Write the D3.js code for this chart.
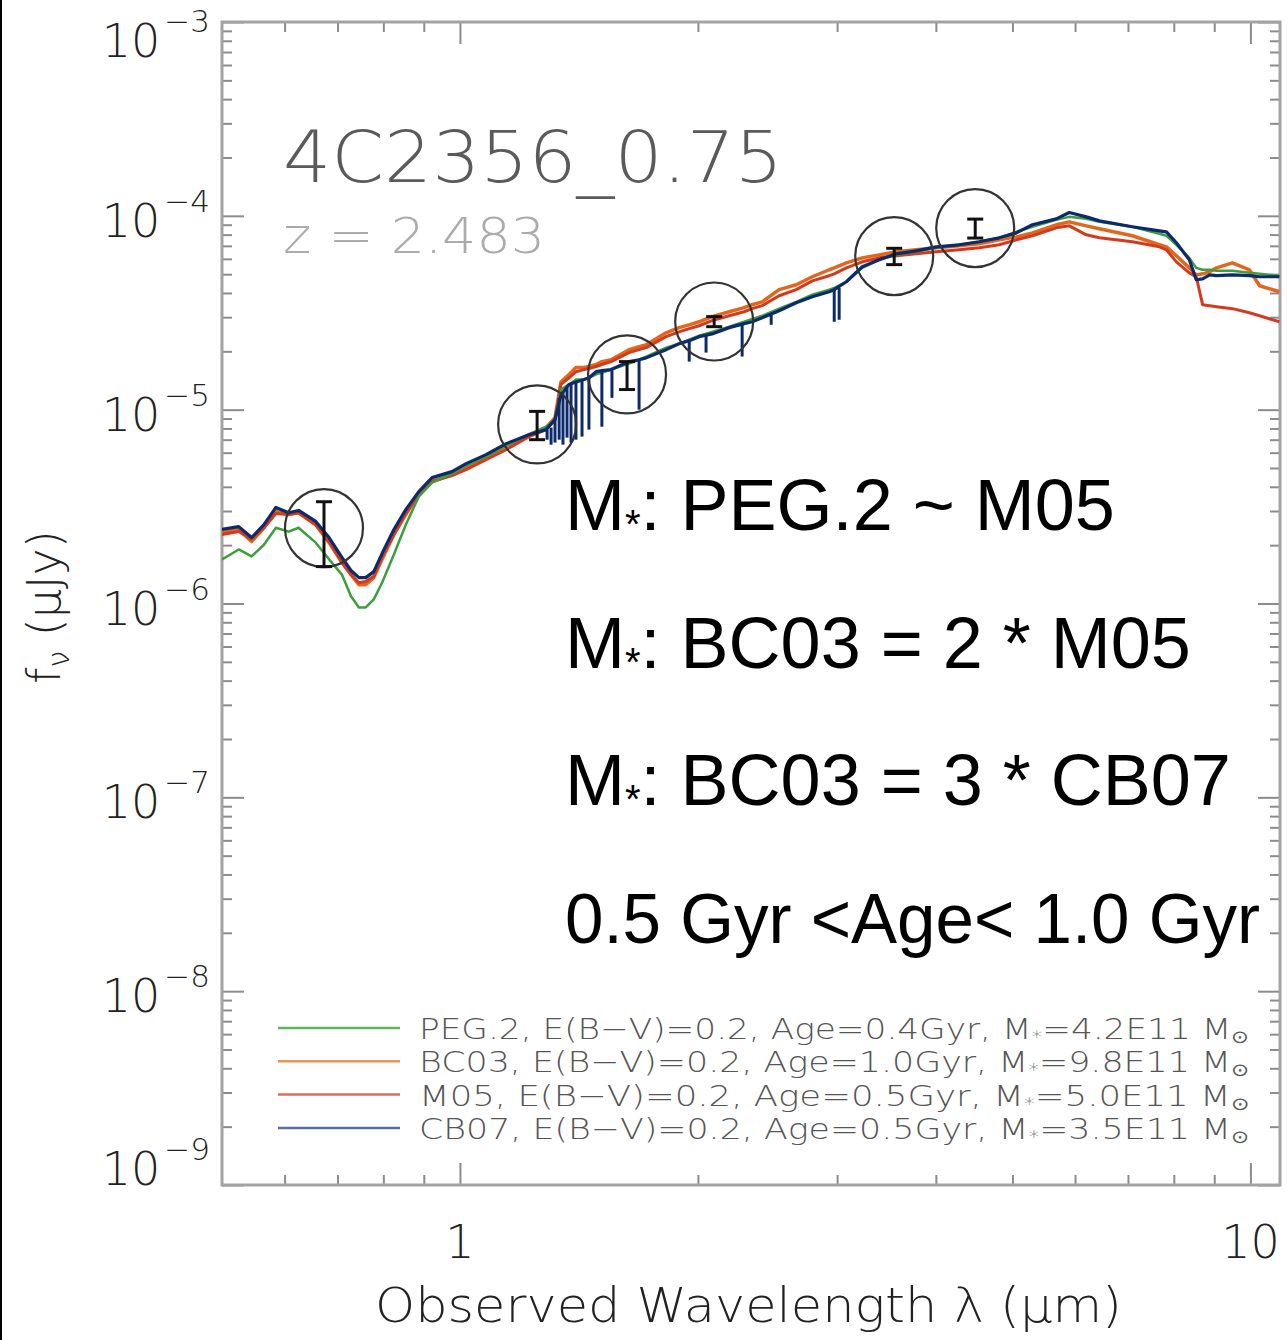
<!DOCTYPE html>
<html><head><meta charset="utf-8">
<script src="https://cdn.jsdelivr.net/npm/d3@7"></script>
<style>body{margin:0;background:#fff}svg{display:block}</style>
</head><body><svg id="chart" width="1287" height="1340"></svg>
<script>
// ---------- DATA ----------
const wavelength = [0.50,0.525,0.545,0.565,0.585,0.607,0.625,0.657,0.683,0.709,
  0.728,0.745,0.760,0.778,0.797,0.825,0.854,0.887,0.922,0.977,
  1.018,1.079,1.144,1.223,1.285,1.319,1.342,1.374,1.402,1.435,
  1.456,1.487,1.512,1.553,1.636,1.685,1.720,1.823,1.893,1.950,
  2.007,2.084,2.191,2.288,2.342,2.412,2.534,2.663,2.791,2.932,
  2.975,3.082,3.228,3.391,3.564,3.778,4.004,4.281,4.539,4.812,
  5.057,5.299,5.68,5.90,6.20,6.44,7.09,7.67,7.83,8.06,
  8.37,8.54,8.70,8.88,9.06,9.49,9.97,10.27,10.88];
const peg2 = [1.69e-6,1.90e-6,1.75e-6,2.01e-6,2.46e-6,2.35e-6,2.46e-6,2.06e-6,1.69e-6,1.41e-6,
  1.09e-6,9.54e-7,9.54e-7,1.05e-6,1.28e-6,1.79e-6,2.55e-6,3.56e-6,4.20e-6,4.68e-6,
  5.14e-6,5.72e-6,6.52e-6,7.43e-6,8.17e-6,8.88e-6,1.27e-5,1.35e-5,1.43e-5,1.43e-5,
  1.46e-5,1.52e-5,1.55e-5,1.61e-5,1.73e-5,1.81e-5,1.88e-5,2.09e-5,2.19e-5,2.30e-5,
  2.41e-5,2.52e-5,2.68e-5,2.84e-5,2.94e-5,3.05e-5,3.32e-5,3.60e-5,3.92e-5,4.16e-5,
  4.25e-5,4.57e-5,5.39e-5,5.93e-5,6.29e-5,6.52e-5,6.84e-5,7.09e-5,7.35e-5,7.70e-5,
  8.27e-5,8.78e-5,9.54e-5,9.88e-5,9.65e-5,9.31e-5,8.78e-5,8.08e-5,7.89e-5,7.09e-5,
  6.07e-5,5.39e-5,5.27e-5,5.27e-5,5.21e-5,5.21e-5,5.08e-5,5.02e-5,4.91e-5];
const bc03 = [2.32e-6,2.41e-6,2.09e-6,2.46e-6,2.98e-6,2.88e-6,2.94e-6,2.55e-6,2.06e-6,1.63e-6,
  1.41e-6,1.25e-6,1.25e-6,1.36e-6,1.69e-6,2.27e-6,2.88e-6,3.65e-6,4.26e-6,4.62e-6,
  5.02e-6,5.66e-6,6.52e-6,7.43e-6,8.08e-6,9.09e-6,1.39e-5,1.52e-5,1.65e-5,1.65e-5,
  1.67e-5,1.71e-5,1.77e-5,1.81e-5,2.04e-5,2.11e-5,2.16e-5,2.49e-5,2.65e-5,2.74e-5,
  2.84e-5,3.02e-5,3.20e-5,3.36e-5,3.48e-5,3.60e-5,4.16e-5,4.41e-5,4.85e-5,5.27e-5,
  5.39e-5,5.72e-5,6.07e-5,6.29e-5,6.52e-5,6.68e-5,6.84e-5,7.00e-5,7.17e-5,7.52e-5,
  7.79e-5,8.17e-5,8.99e-5,9.31e-5,8.88e-5,8.57e-5,7.89e-5,7.09e-5,6.92e-5,6.22e-5,
  5.39e-5,4.96e-5,5.02e-5,5.14e-5,5.39e-5,5.72e-5,5.27e-5,4.36e-5,4.06e-5];
const m05 = [2.27e-6,2.35e-6,2.14e-6,2.46e-6,2.91e-6,2.88e-6,2.94e-6,2.55e-6,2.09e-6,1.63e-6,
  1.41e-6,1.28e-6,1.30e-6,1.38e-6,1.73e-6,2.27e-6,2.91e-6,3.65e-6,4.26e-6,4.57e-6,
  4.91e-6,5.52e-6,6.22e-6,7.26e-6,7.89e-6,8.88e-6,1.35e-5,1.46e-5,1.57e-5,1.61e-5,
  1.63e-5,1.67e-5,1.71e-5,1.77e-5,1.97e-5,2.04e-5,2.09e-5,2.38e-5,2.52e-5,2.62e-5,
  2.71e-5,2.88e-5,3.05e-5,3.20e-5,3.32e-5,3.44e-5,3.87e-5,4.16e-5,4.62e-5,4.91e-5,
  5.02e-5,5.39e-5,5.79e-5,6.07e-5,6.22e-5,6.37e-5,6.52e-5,6.68e-5,6.84e-5,7.09e-5,
  7.52e-5,7.89e-5,8.67e-5,8.88e-5,7.98e-5,7.70e-5,7.35e-5,6.92e-5,6.68e-5,5.79e-5,
  5.08e-5,4.85e-5,3.48e-5,3.44e-5,3.40e-5,3.32e-5,3.16e-5,3.05e-5,2.84e-5];
const cb07 = [2.41e-6,2.49e-6,2.19e-6,2.55e-6,3.13e-6,2.94e-6,3.02e-6,2.65e-6,2.19e-6,1.73e-6,
  1.48e-6,1.36e-6,1.36e-6,1.46e-6,1.81e-6,2.41e-6,3.05e-6,3.78e-6,4.46e-6,4.79e-6,
  5.27e-6,5.86e-6,6.68e-6,7.43e-6,7.89e-6,8.88e-6,1.19e-5,1.35e-5,1.39e-5,1.43e-5,
  1.46e-5,1.57e-5,1.59e-5,1.61e-5,1.77e-5,1.81e-5,1.85e-5,2.04e-5,2.19e-5,2.27e-5,
  2.38e-5,2.46e-5,2.65e-5,2.78e-5,2.84e-5,2.98e-5,3.24e-5,3.56e-5,3.82e-5,4.06e-5,
  4.16e-5,4.57e-5,5.46e-5,5.93e-5,6.37e-5,6.60e-5,6.92e-5,7.09e-5,7.35e-5,7.70e-5,
  8.17e-5,8.99e-5,9.65e-5,1.04e-4,9.88e-5,9.42e-5,8.78e-5,8.37e-5,8.27e-5,7.26e-5,
  5.93e-5,4.68e-5,4.73e-5,4.96e-5,4.91e-5,4.96e-5,4.91e-5,4.85e-5,4.85e-5];
// CB07 absorption features: wavelength, continuum flux, line-bottom flux
const cb07LineWave = [1.289,1.304,1.319,1.335,1.350,1.366,1.382,1.402,1.427,1.456,1.512,1.557,1.685,1.950,2.048,2.275,2.476,2.975,3.018];
const cb07LineTop  = [7.89e-6,8.08e-6,8.88e-6,1.15e-5,1.22e-5,1.30e-5,1.35e-5,1.39e-5,1.43e-5,1.46e-5,1.59e-5,1.61e-5,1.81e-5,2.27e-5,2.41e-5,2.74e-5,3.13e-5,4.16e-5,4.25e-5];
const cb07LineBot  = [7.00e-6,6.60e-6,6.76e-6,7.00e-6,6.60e-6,7.17e-6,6.76e-6,7.00e-6,7.26e-6,7.89e-6,8.17e-6,1.15e-5,1.00e-5,1.77e-5,1.97e-5,1.88e-5,2.74e-5,2.84e-5,2.91e-5];
// photometry
const photWave = [0.673,1.252,1.627,2.097,3.543,4.486];
const photFlux = [2.45e-6,8.4e-6,1.52e-5,2.85e-5,6.2e-5,8.65e-5];
const photErr  = [0.9e-6,1.4e-6,0.25e-5,0.17e-5,0.6e-5,0.97e-5];
// axes
const xMajorTicks = [1,10];
const xMinorTicks = [0.6,0.7,0.8,0.9,2,3,4,5,6,7,8,9];
const xTickLabels = ["1","10"];
const yMajorTicks = [1e-9,1e-8,1e-7,1e-6,1e-5,1e-4,1e-3];
const yTickExponents = ["−9","−8","−7","−6","−5","−4","−3"];
// legend
const legendModels = ["PEG.2","BC03","M05","CB07"];
const legendEBV = ["0.2","0.2","0.2","0.2"];
const legendAge = ["0.4Gyr","1.0Gyr","0.5Gyr","0.5Gyr"];
const legendMass = ["4.2E11","9.8E11","5.0E11","3.5E11"];
const annotations = [
  {pre:"M", sub:"*", post:": PEG.2 ~ M05"},
  {pre:"M", sub:"*", post:": BC03 = 2 * M05"},
  {pre:"M", sub:"*", post:": BC03 = 3 * CB07"},
  {pre:"0.5 Gyr <Age< 1.0 Gyr", sub:"", post:""}
];

// ---------- CHART ----------
const svg = d3.select("#chart");
svg.append("rect").attr("width",1287).attr("height",1340).attr("fill","#fff");
svg.append("line").attr("x1",1).attr("x2",1).attr("y1",0).attr("y2",1340).attr("stroke","#000").attr("stroke-width",2);

const L=222, R=1280, T=22, B=1185;
const x = d3.scaleLog().domain([0.5,10.9]).range([L,R]);
const y = d3.scaleLog().domain([1e-9,1e-3]).range([B,T]);
const yMinorTicks = y.ticks().filter(v => yMajorTicks.every(m => Math.abs(v/m-1) > 1e-6));

const idl = "'DejaVu Sans', 'Liberation Sans', sans-serif";
const axisColor = "#8c8c8c";

function styleAxis(g){ g.select(".domain").remove(); g.selectAll(".tick line").attr("stroke",axisColor).attr("stroke-width",2); g.selectAll("text").remove(); }
const axes = svg.append("g");
axes.append("g").attr("transform",`translate(0,${B})`).call(d3.axisBottom(x).tickValues(xMajorTicks).tickSize(-22).tickFormat("")).call(styleAxis);
axes.append("g").attr("transform",`translate(0,${B})`).call(d3.axisBottom(x).tickValues(xMinorTicks).tickSize(-10).tickFormat("")).call(styleAxis);
axes.append("g").attr("transform",`translate(0,${T})`).call(d3.axisTop(x).tickValues(xMajorTicks).tickSize(-22).tickFormat("")).call(styleAxis);
axes.append("g").attr("transform",`translate(0,${T})`).call(d3.axisTop(x).tickValues(xMinorTicks).tickSize(-10).tickFormat("")).call(styleAxis);
axes.append("g").attr("transform",`translate(${L},0)`).call(d3.axisLeft(y).tickValues(yMajorTicks).tickSize(-22).tickFormat("")).call(styleAxis);
axes.append("g").attr("transform",`translate(${L},0)`).call(d3.axisLeft(y).tickValues(yMinorTicks).tickSize(-10).tickFormat("")).call(styleAxis);
axes.append("g").attr("transform",`translate(${R},0)`).call(d3.axisRight(y).tickValues(yMajorTicks).tickSize(-22).tickFormat("")).call(styleAxis);
axes.append("g").attr("transform",`translate(${R},0)`).call(d3.axisRight(y).tickValues(yMinorTicks).tickSize(-10).tickFormat("")).call(styleAxis);
axes.append("rect").attr("x",L).attr("y",T).attr("width",R-L).attr("height",B-T)
  .attr("fill","none").attr("stroke","#a3a3a3").attr("stroke-width",3);

// y tick labels
yMajorTicks.forEach((v,i)=>{
  const base = Math.max(57, Math.min(B, y(v)+21));
  const t = svg.append("text").attr("x",210).attr("y",base).attr("text-anchor","end")
    .attr("font-family",idl).attr("font-weight",300).attr("fill","#222");
  t.append("tspan").attr("font-size",46).text("10");
  t.append("tspan").attr("font-size",31).attr("dy",-25).attr("dx",4).text(yTickExponents[i]);
});
// x tick labels
xMajorTicks.forEach((v,i)=>{
  svg.append("text").attr("x",x(v)).attr("y",1258).attr("text-anchor","middle")
    .attr("font-family",idl).attr("font-weight",300).attr("font-size",46).attr("fill","#222").text(xTickLabels[i]);
});
// axis titles
svg.append("text").attr("x",375).attr("y",1322).attr("font-family",idl).attr("font-weight",300)
  .attr("font-size",48).attr("fill","#222").attr("textLength",747).attr("lengthAdjust","spacingAndGlyphs")
  .text("Observed Wavelength λ (μm)");
const yt = svg.append("text").attr("transform","translate(60,607) rotate(-90)").attr("text-anchor","middle")
  .attr("font-family",idl).attr("font-weight",300).attr("font-size",46).attr("fill","#222");
yt.append("tspan").text("f");
yt.append("tspan").attr("font-size",30).attr("dy",9).text("ν");
yt.append("tspan").attr("dy",-9).text(" (μJy)");

// title
svg.append("text").attr("x",283).attr("y",182).attr("font-family",idl).attr("font-weight",300)
  .attr("font-size",72).attr("fill","#5a5a5a").attr("textLength",500).attr("lengthAdjust","spacingAndGlyphs").text("4C2356_0.75");
svg.append("text").attr("x",283).attr("y",253).attr("font-family",idl).attr("font-weight",300)
  .attr("font-size",49).attr("fill","#ababab").attr("textLength",262).attr("lengthAdjust","spacingAndGlyphs").text("z = 2.483");

// clip
svg.append("clipPath").attr("id","plotclip").append("rect").attr("x",L).attr("y",T).attr("width",R-L).attr("height",B-T);
const plot = svg.append("g").attr("clip-path","url(#plotclip)");

const line = d3.line().x(d=>x(d[0])).y(d=>y(d[1]));
const series = [
  {vals:bc03, color:"#e2661c", w:3.5},
  {vals:m05,  color:"#d43a1e", w:3},
  {vals:peg2, color:"#3e9e3e", w:2.5},
  {vals:cb07, color:"#0c2a6c", w:3.2}
];
series.forEach(s=>{
  plot.append("path").datum(wavelength.map((w,i)=>[w,s.vals[i]]))
    .attr("d",line).attr("fill","none").attr("stroke",s.color).attr("stroke-width",s.w).attr("stroke-linejoin","round");
});
// CB07 absorption lines
plot.selectAll(".abs").data(cb07LineWave).enter().append("line")
  .attr("x1",d=>x(d)).attr("x2",d=>x(d))
  .attr("y1",(d,i)=>y(cb07LineTop[i])).attr("y2",(d,i)=>y(cb07LineBot[i]))
  .attr("stroke","#0c2a6c").attr("stroke-width",3);

// photometry: circles + error bars
photWave.forEach((w,i)=>{
  const cx=x(w), cy=y(photFlux[i]);
  plot.append("circle").attr("cx",cx).attr("cy",cy).attr("r",39).attr("fill","none").attr("stroke","#333").attr("stroke-width",2.2);
  const y1=y(photFlux[i]+photErr[i]), y2=y(photFlux[i]-photErr[i]);
  plot.append("line").attr("x1",cx).attr("x2",cx).attr("y1",y1).attr("y2",y2).attr("stroke","#111").attr("stroke-width",3);
  [y1,y2].forEach(yy=>plot.append("line").attr("x1",cx-8).attr("x2",cx+8).attr("y1",yy).attr("y2",yy).attr("stroke","#111").attr("stroke-width",3));
});

// annotations
annotations.forEach((a,i)=>{
  const t = svg.append("text").attr("x",565).attr("y",530+i*137.7)
    .attr("font-family","'Liberation Sans', Arial, sans-serif").attr("font-size",72).attr("fill","#000");
  t.append("tspan").text(a.pre);
  if(a.sub){ t.append("tspan").attr("font-size",40).attr("dy",8).text(a.sub);
             t.append("tspan").attr("dy",-8).text(a.post); }
  else { t.attr("font-size",70).attr("textLength",695).attr("lengthAdjust","spacingAndGlyphs"); }
});

// legend
const legendColors = ["#5fb55f","#e8965a","#db6f5e","#5a6ea3"];
legendModels.forEach((m,i)=>{
  const ly = 1028 + i*33.3;
  svg.append("line").attr("x1",278).attr("x2",400).attr("y1",ly).attr("y2",ly).attr("stroke",legendColors[i]).attr("stroke-width",2.5);
  const t = svg.append("text").attr("x",419).attr("y",ly+11).attr("font-family",idl).attr("font-weight",300)
    .attr("font-size",29).attr("fill","#555").attr("textLength",830).attr("lengthAdjust","spacingAndGlyphs");
  t.append("tspan").text(`${m}, E(B−V)=${legendEBV[i]}, Age=${legendAge[i]}, M`);
  t.append("tspan").attr("font-size",18).attr("dy",4).text("*");
  t.append("tspan").attr("dy",-4).text(`=${legendMass[i]} M`);
  t.append("tspan").attr("font-size",18).attr("dy",4).text("⊙");
});
</script></body></html>
